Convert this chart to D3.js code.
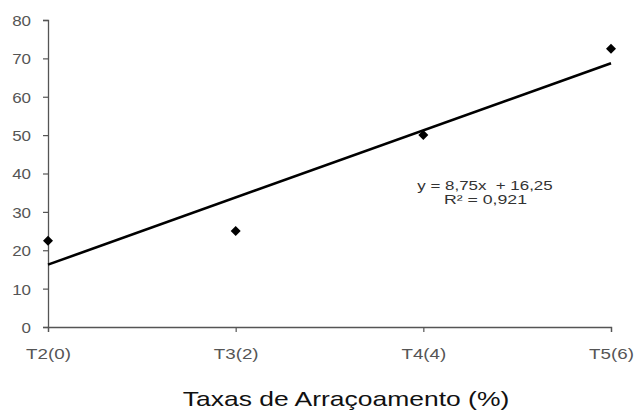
<!DOCTYPE html>
<html><head><meta charset="utf-8">
<script src="https://cdn.jsdelivr.net/npm/d3@7"></script>
<style>body{margin:0;background:#fff;} svg{display:block;}</style>
</head><body>
<svg id="chart" width="634" height="412"></svg>
<script>
const categories = ["T2(0)", "T3(2)", "T4(4)", "T5(6)"];
const xValues = [0, 2, 4, 6];
const values = [22.5, 25, 50, 72.5];
const yTicks = [0, 10, 20, 30, 40, 50, 60, 70, 80];
const trend = { slope: 8.75, intercept: 16.25 };
const equationLines = ["y = 8,75x  + 16,25", "R² = 0,921"];
const xTitle = "Taxas de Arraçoamento (%)";

const svg = d3.select("#chart");
const x = d3.scaleLinear().domain([0, 6]).range([48, 611]);
const y = d3.scaleLinear().domain([0, 80]).range([327, 20]);

const font = "Arial, 'Liberation Sans', sans-serif";

function stretch(sel, factor) {
  sel.each(function () {
    const l = this.getComputedTextLength();
    d3.select(this).attr("textLength", l * factor).attr("lengthAdjust", "spacingAndGlyphs");
  });
}

// Y axis
const yAxis = svg.append("g").attr("transform", "translate(48,0)")
  .call(d3.axisLeft(y).tickValues(yTicks).tickSize(5).tickPadding(12).tickFormat(d3.format("d")));
yAxis.select(".domain").attr("stroke", "#555").attr("stroke-width", 1.3);
yAxis.selectAll(".tick line").attr("stroke", "#555").attr("stroke-width", 1.2);
yAxis.selectAll(".tick text").attr("fill", "#555").attr("font-size", 15).attr("font-family", font)
  .attr("dy", "0.36em");
stretch(yAxis.selectAll(".tick text"), 1.13);

// X axis
const xAxis = svg.append("g").attr("transform", "translate(0,327)")
  .call(d3.axisBottom(x).tickValues(xValues).tickSize(5).tickPadding(16)
    .tickFormat(d => categories[xValues.indexOf(d)]));
xAxis.select(".domain").attr("stroke", "#555").attr("stroke-width", 1.3);
xAxis.selectAll(".tick line").attr("stroke", "#555").attr("stroke-width", 1.2);
xAxis.selectAll(".tick text").attr("fill", "#555").attr("font-size", 15).attr("font-family", font);
stretch(xAxis.selectAll(".tick text"), 1.25);

// Trendline
svg.append("line")
  .attr("x1", x(0)).attr("y1", y(trend.intercept))
  .attr("x2", x(6)).attr("y2", y(trend.slope * 6 + trend.intercept))
  .attr("stroke", "#000").attr("stroke-width", 2.6);

// Points (diamonds)
const diamond = d3.symbol().type(d3.symbolSquare).size(50);
svg.selectAll("path.pt").data(values).enter().append("path")
  .attr("class", "pt")
  .attr("d", diamond)
  .attr("transform", (d, i) => `translate(${x(xValues[i])},${y(d)}) rotate(45)`)
  .attr("fill", "#000");

// Equation
const eq1 = svg.append("text").attr("x", 485).attr("y", 190).attr("text-anchor", "middle")
  .attr("font-family", font).attr("font-size", 13).attr("fill", "#333")
  .style("white-space", "pre").text(equationLines[0]);
const eq2 = svg.append("text").attr("x", 485.5).attr("y", 203.5).attr("text-anchor", "middle")
  .attr("font-family", font).attr("font-size", 13).attr("fill", "#333")
  .text(equationLines[1]);
stretch(eq1, 1.3);
stretch(eq2, 1.36);

// X title
const title = svg.append("text").attr("x", 346).attr("y", 406).attr("text-anchor", "middle")
  .attr("font-family", font).attr("font-size", 21).attr("fill", "#111")
  .text(xTitle);
stretch(title, 1.26);
</script>
</body></html>
